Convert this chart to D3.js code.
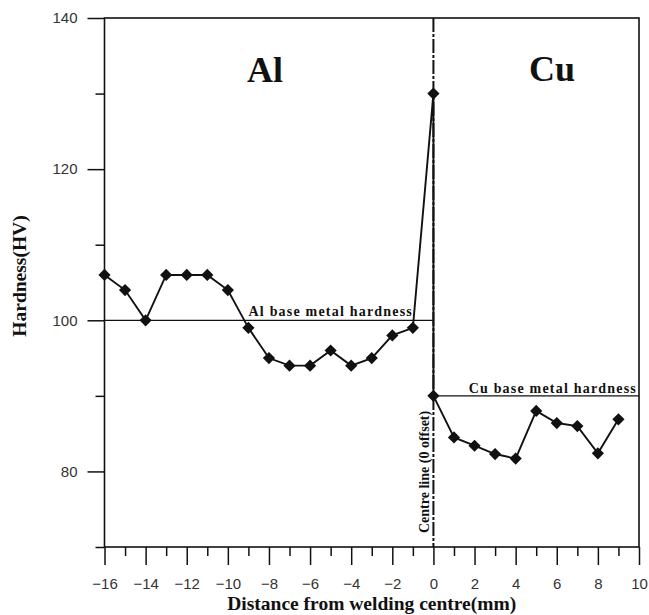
<!DOCTYPE html>
<html>
<head>
<meta charset="utf-8">
<script src="https://cdn.jsdelivr.net/npm/d3@7"></script>
<style>
  html, body { margin: 0; padding: 0; background: #fff; }
  svg { display: block; }
  .tick text { font-family: "Liberation Sans", Arial, sans-serif; font-size: 15px; fill: #333; }
  .serif { font-family: "Liberation Serif", "Times New Roman", serif; font-weight: bold; fill: #111; }
</style>
</head>
<body>
<svg id="chart" width="649" height="615"></svg>
<script>
// Microhardness profile across the Al/Cu weld
const alDistance = [-16, -15, -14, -13, -12, -11, -10, -9, -8, -7, -6, -5, -4, -3, -2, -1, 0];
const alHardness = [106, 104, 100, 106, 106, 106, 104, 99, 95, 94, 94, 96, 94, 95, 98, 99, 130];
const cuDistance = [0, 1, 2, 3, 4, 5, 6, 7, 8, 9];
const cuHardness = [90, 84.5, 83.4, 82.3, 81.7, 88, 86.4, 86, 82.4, 86.9];

const alBaseHardness = 100;
const cuBaseHardness = 90;

const xMajorTicks = [-16, -14, -12, -10, -8, -6, -4, -2, 0, 2, 4, 6, 8, 10];
const xMinorTicks = [-15, -13, -11, -9, -7, -5, -3, -1, 1, 3, 5, 7, 9];
const yMajorTicks = [80, 100, 120, 140];
const yMinorTicks = [70, 90, 110, 130];

const svg = d3.select("#chart");
const plotLeft = 104.5, plotRight = 639, plotTop = 18, plotBottom = 547;

const x = d3.scaleLinear().domain([-16, 10]).range([plotLeft, plotRight]);
const y = d3.scaleLinear().domain([70, 140]).range([plotBottom, plotTop]);

// Axes
const xMajor = svg.append("g").attr("transform", `translate(0,${plotBottom})`)
  .call(d3.axisBottom(x).tickValues(xMajorTicks).tickSize(18).tickPadding(13).tickFormat(d3.format("d")));
const xMinor = svg.append("g").attr("transform", `translate(0,${plotBottom})`)
  .call(d3.axisBottom(x).tickValues(xMinorTicks).tickSize(9).tickFormat(""));
const yMajor = svg.append("g").attr("transform", `translate(${plotLeft},0)`)
  .call(d3.axisLeft(y).tickValues(yMajorTicks).tickSize(17).tickPadding(10));
const yMinor = svg.append("g").attr("transform", `translate(${plotLeft},0)`)
  .call(d3.axisLeft(y).tickValues(yMinorTicks).tickSize(9).tickFormat(""));

[xMajor, xMinor, yMajor, yMinor].forEach(g => {
  g.select(".domain").remove();
  g.selectAll(".tick line").attr("stroke", "#111").attr("stroke-width", 1.5);
});

// Frame
svg.append("rect")
  .attr("x", plotLeft).attr("y", plotTop)
  .attr("width", plotRight - plotLeft).attr("height", plotBottom - plotTop)
  .attr("fill", "none").attr("stroke", "#111").attr("stroke-width", 1.6);

// Base metal hardness reference lines
svg.append("line")
  .attr("x1", x(-16)).attr("x2", x(0))
  .attr("y1", y(alBaseHardness)).attr("y2", y(alBaseHardness))
  .attr("stroke", "#111").attr("stroke-width", 1.3);
svg.append("line")
  .attr("x1", x(0)).attr("x2", x(10))
  .attr("y1", y(cuBaseHardness)).attr("y2", y(cuBaseHardness))
  .attr("stroke", "#111").attr("stroke-width", 1.3);

svg.append("text").attr("class", "serif")
  .attr("x", 413).attr("y", y(alBaseHardness) - 4)
  .attr("text-anchor", "end").attr("font-size", 14).attr("letter-spacing", 1.2)
  .text("Al base metal hardness");
svg.append("text").attr("class", "serif")
  .attr("x", 637).attr("y", y(cuBaseHardness) - 3)
  .attr("text-anchor", "end").attr("font-size", 14).attr("letter-spacing", 1.2)
  .text("Cu base metal hardness");

// Centre line (dash-dot)
svg.append("line")
  .attr("x1", x(0)).attr("x2", x(0))
  .attr("y1", plotTop).attr("y2", plotBottom)
  .attr("stroke", "#111").attr("stroke-width", 2)
  .attr("stroke-dasharray", "14,2,3,2");

svg.append("text").attr("class", "serif")
  .attr("transform", `translate(${x(0) - 4},533) rotate(-90)`)
  .attr("font-size", 14)
  .text("Centre line (0 offset)");

// Hardness profile
const points = alDistance.map((d, i) => ({ x: d, v: alHardness[i] }))
  .concat(cuDistance.map((d, i) => ({ x: d, v: cuHardness[i] })));

svg.append("path")
  .datum(points)
  .attr("fill", "none").attr("stroke", "#111").attr("stroke-width", 1.9)
  .attr("d", d3.line().x(d => x(d.x)).y(d => y(d.v)));

const diamond = d3.symbol().type(d3.symbolDiamond2).size(95);
svg.selectAll("path.marker")
  .data(points)
  .join("path")
  .attr("class", "marker")
  .attr("transform", d => `translate(${x(d.x)},${y(d.v)})`)
  .attr("d", diamond)
  .attr("fill", "#111");

// Region labels
svg.append("text").attr("class", "serif")
  .attr("x", 265).attr("y", 82).attr("text-anchor", "middle").attr("font-size", 36)
  .text("Al");
svg.append("text").attr("class", "serif")
  .attr("x", 552).attr("y", 81).attr("text-anchor", "middle").attr("font-size", 36)
  .text("Cu");

// Axis titles
svg.append("text").attr("class", "serif")
  .attr("x", (plotLeft + plotRight) / 2).attr("y", 610).attr("text-anchor", "middle").attr("font-size", 19.5)
  .text("Distance from welding centre(mm)");
svg.append("text").attr("class", "serif")
  .attr("transform", `translate(26,276) rotate(-90)`)
  .attr("text-anchor", "middle").attr("font-size", 19.5)
  .text("Hardness(HV)");
</script>
</body>
</html>
